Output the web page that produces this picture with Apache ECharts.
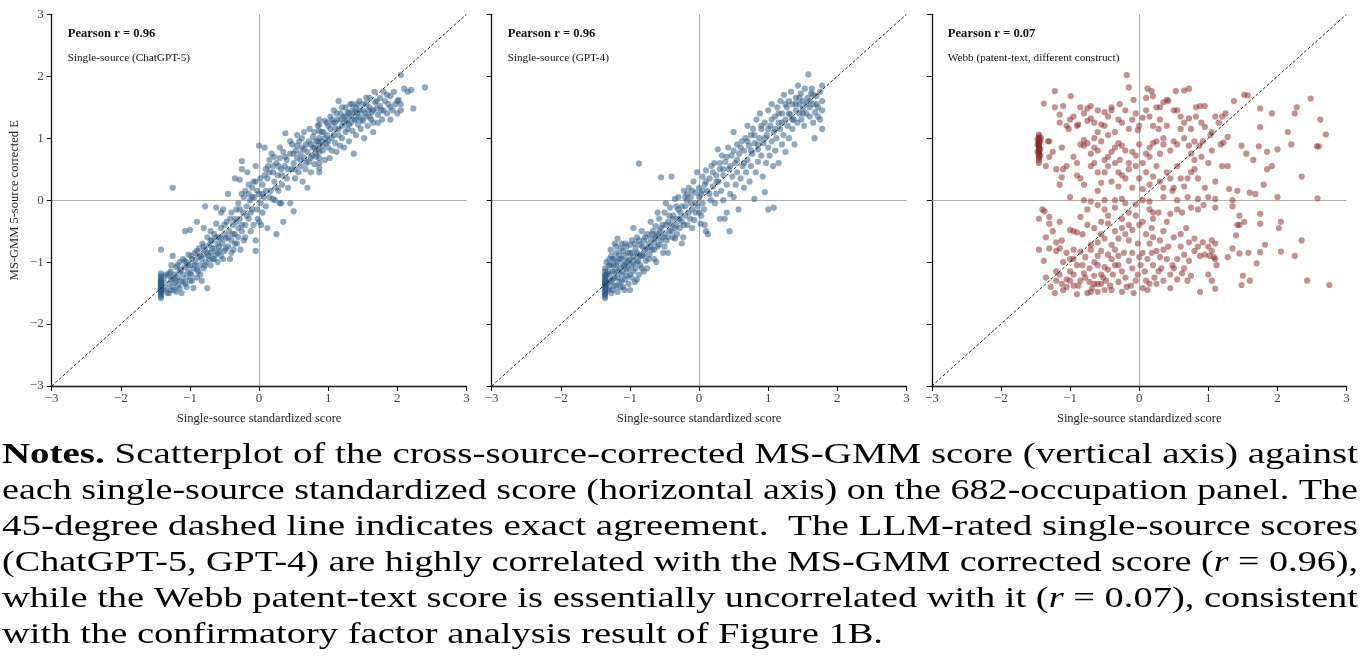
<!DOCTYPE html>
<html><head><meta charset="utf-8">
<script src="https://cdn.jsdelivr.net/npm/echarts@6/dist/echarts.min.js"></script>
<style>html,body{margin:0;padding:0;background:#fff}#c{width:1361px;height:669px}</style>
</head><body><div id="c"></div>
<script>
// ---------- DATA ----------
const axisTicks = [-3,-2,-1,0,1,2,3];
const panelTitles = ["Single-source (ChatGPT-5)","Single-source (GPT-4)","Webb (patent-text, different construct)"];
const pearsonLabels = ["Pearson r = 0.96","Pearson r = 0.96","Pearson r = 0.07"];
const refLine = [[-3,-3],[3,3]];

const chatgpt5 = [
[-1.42,-1.18],[-1.42,-1.22],[-1.42,-1.25],[-1.42,-1.28],[-1.42,-1.3],[-1.42,-1.33],[-1.42,-1.35],[-1.42,-1.37],[-1.42,-1.4],[-1.42,-1.42],[-1.42,-1.44],[-1.42,-1.46],[-1.42,-1.48],[-1.42,-1.5],[-1.42,-1.52],[-1.42,-1.55],[-1.42,-1.58],[-1.42,-1.38],[-1.42,-1.31],[-1.42,-1.45],[-1.42,-0.8],
[-1.38,-1.3],[-1.35,-1.42],[-1.33,-1.22],[-1.3,-1.35],[-1.3,-1.5],[-1.28,-1.15],[-1.27,-1.28],[-1.25,-1.4],[-1.25,-0.9],[-1.22,-1.2],[-1.22,-1.33],[-1.2,-1.48],[-1.2,-1.08],[-1.18,-1.25],[-1.17,-1.38],[-1.15,-1.0],[-1.15,-1.15],[-1.13,-1.3],[-1.12,-1.5],[-1.1,-1.2],[-1.1,-0.95],[-1.08,-1.08],[-1.07,-1.35],[-1.05,-1.25],[-1.05,-1.0],[-1.03,-1.15],[-1.02,-0.88],[-1.0,-1.3],[-1.0,-1.05],[-0.98,-1.2],[-0.97,-0.95],[-0.95,-1.1],[-0.95,-1.42],[-0.93,-0.85],[-0.92,-1.0],[-0.9,-1.25],[-0.9,-1.12],[-0.88,-0.92],[-0.87,-0.78],[-0.85,-1.05],[-0.85,-1.2],[-0.83,-0.95],[-0.82,-0.7],[-0.8,-0.88],[-0.8,-1.1],[-0.78,-0.8],[-0.77,-1.0],[-0.75,-0.6],[-0.75,-1.42],[-0.73,-0.9],[-0.72,-0.72],[-0.7,-0.5],[-0.7,-0.85],[-0.7,-1.05],[-0.68,-0.65],[-0.67,-0.95],[-0.65,-0.78],[-0.65,-0.55],[-0.63,-0.88],[-0.62,-0.12],[-0.6,-0.7],[-0.6,-1.0],[-0.58,-0.6],[-0.57,-0.82],[-0.55,-0.45],[-0.55,-0.9],[-0.53,-0.7],[-0.52,-0.15],[-0.5,-0.55],[-0.5,-0.82],[-0.48,-0.62],[-0.47,-0.35],[-0.45,-0.75],[-0.43,-0.5],[-0.42,-0.95],[-0.4,-0.65],[-0.4,-0.2],[-0.38,-0.4],[-0.37,-0.8],[-0.35,-0.55],[-0.35,0.35],[-0.33,-0.15],[-0.32,-0.7],[-0.3,-0.45],[-0.3,-0.05],[-0.28,-0.3],[-0.27,-0.8],[-0.25,-0.5],[-0.25,0.1],[-0.23,-0.2],[-0.22,-0.65],[-0.2,0.15],[-0.2,-0.4],[-0.18,-0.1],[-0.17,0.45],[-0.15,-0.3],[-0.15,0.25],[-0.13,0.0],[-0.12,-0.5],[-0.1,0.2],[-0.1,-0.15],[-0.08,0.3],[-0.07,0.05],[-0.05,-0.65],[-0.05,-0.82],[-0.03,0.15],[-0.02,-0.3],[0.0,-0.35],[0.0,0.88],[0.02,-0.05],[0.03,-0.4],[0.05,0.25],[0.07,0.05],[0.08,0.85],[0.1,-0.1],[0.12,0.35],[0.12,-0.45],[0.15,0.45],[0.17,0.15],[0.18,0.75],[0.2,0.55],[0.22,0.3],[0.23,0.0],[0.25,0.6],[0.25,-0.55],[0.27,0.4],[0.28,0.15],[0.3,0.68],[0.3,-0.05],[0.32,0.5],[0.33,0.25],[0.35,0.78],[0.35,-0.35],[0.37,0.55],[0.38,1.08],[0.4,0.35],[0.4,0.65],[0.42,0.2],[0.45,0.75],[0.45,-0.05],[0.47,0.5],[0.48,0.9],[0.5,0.6],[0.5,-0.18],[0.52,0.35],[0.53,0.8],[0.55,0.68],[0.55,1.05],[0.57,0.45],[0.58,0.95],[0.6,0.75],[0.6,0.55],[0.62,0.85],[0.63,0.3],[0.65,0.68],[0.65,1.1],[0.67,0.5],[0.68,0.9],[0.7,0.78],[0.7,0.2],[0.72,0.62],[0.73,1.15],[0.75,0.9],[0.75,0.45],[0.77,0.72],[0.78,1.02],[0.8,0.85],[0.8,0.58],[0.82,0.95],[0.83,0.7],[0.85,1.2],[0.85,0.82],
[0.87,0.45],[0.87,0.52],[0.87,0.6],[0.87,0.68],[0.87,0.78],[0.87,0.9],[0.87,1.0],[0.87,1.12],[0.87,1.22],[0.87,1.3],
[0.9,0.95],[0.92,0.8],[0.93,1.1],[0.95,0.65],[0.95,1.28],[0.97,0.92],[0.98,1.05],[1.0,0.85],[1.0,1.2],[1.02,0.68],[1.03,1.35],[1.05,1.0],[1.05,0.8],[1.07,1.25],[1.08,1.45],[1.1,0.92],[1.1,1.15],[1.12,0.78],[1.13,1.3],[1.15,1.05],[1.15,1.6],[1.17,0.88],[1.18,1.4],[1.2,1.2],[1.2,1.0],[1.22,1.35],[1.23,0.85],[1.25,1.5],[1.25,1.1],[1.27,1.28],[1.28,1.42],[1.3,0.95],[1.3,1.22],[1.32,1.55],[1.33,1.35],[1.35,1.12],[1.35,1.45],[1.37,0.75],[1.38,1.3],[1.4,1.5],[1.4,1.05],[1.42,1.4],[1.43,1.22],[1.45,1.6],[1.45,1.35],[1.47,1.15],[1.5,1.45],[1.5,1.28],[1.52,1.0],[1.55,1.55],[1.55,1.35],[1.57,1.2],[1.6,1.5],[1.6,1.65],[1.62,1.3],[1.63,1.42],[1.65,1.1],[1.65,1.25],[1.67,1.75],[1.68,1.58],[1.7,1.48],[1.72,1.38],[1.75,1.65],[1.75,1.52],[1.78,1.3],[1.8,1.45],[1.8,1.75],[1.82,1.6],[1.85,1.4],[1.87,1.55],[1.9,1.68],[1.9,1.3],[1.93,1.45],[1.95,1.75],[1.97,1.55],[2.0,1.4],[2.02,1.62],[2.05,2.02],[2.05,1.55],[2.1,1.8],[2.15,1.75],[2.2,1.78],[2.23,1.48],[2.4,1.82],
[-1.25,0.2],[-1.07,-0.5],[-1.0,-0.48],[-0.9,-0.35],[-0.8,-0.45],[-0.78,-0.1],[-0.62,-0.38],[-0.55,-0.2],[-0.45,0.1],[-0.35,-0.3],[-0.28,0.33],[-0.25,0.63],[-0.25,0.5],[-0.05,0.55],[0.05,0.1],[0.1,0.5],[0.2,0.02],[0.15,0.65],[0.32,-0.05],
[-1.38,-1.45],[-1.35,-1.2],[-1.33,-1.5],[-1.3,-1.18],[-1.28,-1.45],[-1.27,-1.05],[-1.25,-1.25],[-1.23,-1.45],[-1.2,-1.3],[-1.18,-1.05],[-1.15,-1.42],[-1.13,-1.12],[-1.1,-1.32],[-1.08,-0.98],[-1.05,-1.4],[-1.03,-1.05],[-1.0,-1.18],[-0.98,-0.9],[-0.97,-1.3],[-0.93,-1.05],[-0.9,-0.82],[-0.88,-1.15],[-0.85,-0.9],[-0.83,-1.3],[-0.8,-0.75],[-0.78,-1.05],[-0.75,-0.85],[-0.72,-0.95],[-0.7,-0.65],[-0.68,-0.78],[-0.65,-0.95],[-0.62,-0.6],[-0.6,-0.85],[-0.58,-0.75],[-0.55,-0.62],[-0.52,-0.95],[-0.5,-0.4],[-0.48,-0.78],[-0.45,-0.6],[-0.42,-0.3],[-0.4,-0.85],[-0.38,-0.55],[-0.35,-0.7],[-0.33,-0.35],[-0.3,-0.6],[-0.28,-0.15],[-0.25,-0.4],[-0.22,0.05],[-0.2,-0.6],[-0.18,-0.25],[-0.15,0.1],[-0.12,-0.2],[-0.1,0.05],[-0.08,-0.4],[-0.05,0.3],[-0.03,-0.15],[0.0,0.1],[0.02,0.35],[0.05,-0.2],[0.08,0.4],[0.1,0.15],[0.13,0.55],[0.15,0.05],[0.2,0.45],[0.22,0.7],[0.25,0.2],[0.28,0.55],[0.3,0.85],[0.33,0.4],[0.38,0.7],[0.42,0.5],[0.45,0.95],[0.5,0.75],[0.52,0.5],[0.55,0.88],[0.6,0.65],[0.62,1.0],[0.65,0.82],[0.68,0.6],[0.72,0.95],[0.75,0.68],[0.78,0.85],[0.8,1.1],[0.82,0.75],[0.85,0.95],[0.9,1.1],[0.92,0.88],[0.95,1.0],[0.98,1.25],[1.0,0.95],[1.03,1.15],[1.05,1.3],[1.08,1.05],[1.1,1.25],[1.12,1.4],[1.15,1.15],[1.18,1.3],[1.2,1.5],[1.23,1.25],[1.25,1.35],[1.28,1.15],[1.3,1.4],[1.33,1.25],[1.35,1.55],[1.38,1.42],[1.4,1.3],[1.42,1.55],[1.45,1.45],[1.48,1.3],[1.5,1.55],[1.53,1.4],[1.55,1.65],[1.58,1.45],[1.6,1.35],[1.65,1.45],[1.7,1.6],[1.72,1.25],[1.77,1.45],[1.85,1.7],[1.9,1.5],[2.0,1.6],[2.05,1.45]
];

const gpt4 = [
[-1.36,-1.1],[-1.36,-1.15],[-1.36,-1.2],[-1.36,-1.24],[-1.36,-1.28],[-1.36,-1.31],[-1.36,-1.34],[-1.36,-1.37],[-1.36,-1.4],[-1.36,-1.43],[-1.36,-1.46],[-1.36,-1.49],[-1.36,-1.52],[-1.36,-1.55],[-1.36,-1.58],[-1.36,-1.3],[-1.36,-1.42],[-1.36,-1.22],[-1.36,-1.35],[-1.36,-1.5],
[-1.33,-1.2],[-1.32,-1.45],[-1.3,-1.05],[-1.3,-1.3],[-1.28,-0.8],[-1.27,-1.5],[-1.25,-1.15],[-1.25,-0.95],[-1.23,-1.38],[-1.22,-1.25],[-1.2,-0.85],[-1.2,-1.05],[-1.18,-1.48],[-1.17,-1.15],[-1.15,-0.95],[-1.15,-1.32],[-1.13,-0.78],[-1.12,-1.2],[-1.1,-1.05],[-1.1,-1.4],[-1.08,-0.9],[-1.07,-1.28],[-1.05,-1.12],[-1.05,-0.75],[-1.03,-0.98],[-1.02,-1.35],[-1.0,-1.2],[-1.0,-0.85],[-0.98,-1.05],[-0.97,-0.65],[-0.95,-1.15],[-0.95,-0.92],[-0.93,-1.32],[-0.92,-0.78],[-0.9,-1.0],[-0.9,-0.6],[-0.88,-0.88],[-0.87,-1.2],[-0.85,-0.72],[-0.85,-1.05],[-0.83,-0.5],[-0.82,-0.9],[-0.8,-0.65],[-0.8,-1.15],[-0.78,-0.8],[-0.77,-0.98],[-0.75,-0.55],[-0.73,-0.7],[-0.72,-0.88],[-0.7,-0.35],[-0.7,-0.62],[-0.68,-0.8],[-0.67,-0.5],[-0.65,-0.68],[-0.65,-0.95],[-0.63,-0.42],[-0.62,-0.58],[-0.6,-0.75],[-0.58,-0.3],[-0.57,-0.5],[-0.55,-0.65],[-0.55,0.37],[-0.53,-0.4],[-0.52,-0.85],[-0.5,-0.55],[-0.5,-0.2],[-0.48,-0.05],[-0.47,-0.65],[-0.45,-0.35],[-0.43,-0.5],[-0.42,-0.12],[-0.4,0.38],[-0.4,-0.4],[-0.38,-0.6],[-0.37,-0.25],[-0.35,-0.45],[-0.33,-0.1],[-0.32,-0.55],[-0.3,-0.3],[-0.3,0.05],[-0.28,-0.45],[-0.27,-0.2],[-0.25,-0.35],[-0.23,-0.6],[-0.22,0.15],[-0.2,-0.1],[-0.2,-0.25],[-0.18,0.0],[-0.17,-0.4],[-0.15,0.2],[-0.13,-0.3],[-0.12,0.05],[-0.1,-0.15],[-0.08,0.3],[-0.07,-0.32],[-0.05,0.12],[-0.05,-0.05],[-0.03,0.45],[-0.02,-0.1],[0.0,0.05],[0.0,-0.2],[0.02,-0.38],[0.03,0.1],[0.05,0.38],[0.05,-0.05],[0.07,-0.15],[0.08,0.25],[0.1,0.48],[0.1,-0.5],[0.12,0.15],[0.13,-0.55],[0.15,0.35],[0.17,0.0],[0.18,0.55],[0.2,0.22],[0.22,0.6],[0.23,-0.05],[0.25,0.4],[0.25,0.1],[0.27,0.82],[0.28,0.3],[0.3,-0.3],[0.3,0.5],[0.32,0.15],[0.33,0.72],[0.35,0.0],[0.35,0.4],[0.37,-0.3],[0.38,0.62],[0.4,0.25],[0.4,-0.2],[0.42,0.85],[0.43,0.5],[0.44,-0.5],[0.45,0.1],[0.47,0.72],[0.48,0.38],[0.5,1.1],[0.5,0.05],[0.52,0.6],[0.53,0.25],[0.55,0.9],[0.55,0.45],[0.57,-0.15],[0.58,0.75],[0.6,0.35],[0.62,0.95],[0.63,0.55],[0.65,0.2],[0.65,0.8],[0.67,1.0],[0.68,0.45],[0.7,0.65],[0.7,1.2],[0.72,0.88],[0.73,0.3],[0.75,1.05],[0.75,0.55],[0.77,0.75],[0.78,1.15],[0.8,0.92],[0.8,0.02],[0.82,0.45],[0.83,1.3],[0.85,0.82],[0.85,0.62],[0.87,1.0],[0.88,1.4],[0.9,0.72],[0.9,1.15],[0.92,0.38],[0.93,0.92],[0.95,1.25],[0.95,0.13],[0.97,0.6],[0.98,1.05],[1.0,0.85],[1.0,1.45],[1.0,-0.15],[1.02,0.72],[1.03,1.2],[1.05,0.95],[1.05,1.55],[1.07,0.55],[1.08,1.1],[1.08,-0.12],[1.1,1.35],[1.1,0.8],[1.12,1.0],[1.13,1.5],[1.15,1.25],[1.15,0.6],[1.17,1.15],[1.18,1.6],[1.2,0.9],[1.2,1.4],[1.22,1.05],[1.23,1.7],[1.25,1.3],[1.25,0.78],[1.27,1.5],[1.28,1.2],[1.3,1.6],[1.3,1.0],[1.32,1.38],[1.33,1.75],[1.35,1.15],[1.35,1.55],[1.37,1.3],[1.38,0.9],[1.4,1.45],[1.4,1.65],[1.42,1.25],[1.43,1.85],[1.45,1.55],[1.45,1.4],[1.47,1.72],[1.48,1.3],[1.5,1.6],[1.5,1.48],[1.52,1.2],[1.53,1.8],[1.55,1.4],[1.57,1.65],[1.58,2.03],[1.6,1.5],[1.6,1.35],[1.62,1.72],[1.63,1.8],[1.65,1.55],[1.65,1.25],[1.67,1.0],[1.68,1.42],[1.7,1.68],[1.72,1.5],[1.75,1.3],[1.78,1.85],[1.78,1.6],[1.78,1.45],[1.78,1.15],[1.75,1.75],
[-1.3,-0.95],[-1.22,-0.7],[-1.18,-0.62],[-1.12,-0.7],[-1.08,-1.45],[-1.0,-1.45],[-0.9,-1.28],[-0.95,-0.45],[-0.75,-1.1],[-0.62,-1.0],[-0.6,-0.2],[-0.45,-0.85],[-0.35,0.02],[-0.25,-0.7],[-0.17,0.1],[-0.1,-0.45],[0.08,-0.4],[-0.87,0.59],
[-1.34,-1.0],[-1.33,-1.35],[-1.32,-1.15],[-1.3,-1.42],[-1.3,-1.2],[-1.28,-1.05],[-1.28,-1.32],[-1.27,-0.9],[-1.25,-1.28],[-1.25,-1.45],[-1.24,-1.05],[-1.22,-0.95],[-1.22,-1.15],[-1.2,-1.38],[-1.2,-0.75],[-1.18,-1.0],[-1.18,-1.25],[-1.16,-0.88],[-1.15,-1.1],[-1.14,-1.4],[-1.12,-0.95],[-1.12,-1.3],[-1.1,-0.82],[-1.1,-1.15],[-1.08,-1.05],[-1.07,-0.7],[-1.05,-1.0],[-1.05,-1.22],[-1.03,-0.85],[-1.02,-1.1],[-1.0,-0.95],[-1.0,-0.72],[-0.98,-1.25],[-0.97,-0.85],[-0.95,-1.02],[-0.93,-0.7],[-0.92,-1.1],[-0.9,-0.85],[-0.88,-0.98],[-0.87,-0.65],[-0.85,-0.9],[-0.83,-1.1],[-0.82,-0.75],[-0.8,-0.88],[-0.78,-0.6],[-0.75,-0.78],[-0.73,-0.95],[-0.7,-0.75],[-0.68,-0.55],[-0.65,-0.8],[-0.63,-0.62],[-0.6,-0.55],[-0.58,-0.72],[-0.55,-0.45],[-0.53,-0.6],[-0.5,-0.75],[-0.48,-0.4],[-0.45,-0.6],[-0.43,-0.25],[-0.4,-0.5],[-0.38,-0.3],[-0.35,-0.62],[-0.33,-0.4],[-0.3,-0.15],[-0.28,-0.3],[-0.25,-0.1],[-0.22,-0.4],[-0.2,0.05],[-0.15,-0.2],[-0.12,-0.05],[-0.1,0.15],[-0.05,-0.2],[0.0,0.2],[0.03,-0.25],[0.05,0.15],[0.1,0.3],[0.15,0.1],[0.2,0.45],[0.25,0.3],[0.3,0.6],[0.35,0.5],[0.4,0.7],[0.45,0.55],[0.5,0.8],[0.55,0.65],[0.6,0.85],[0.65,0.6],[0.7,0.95],[0.75,0.8],[0.8,1.05],[0.85,0.9],[0.9,1.2],[0.95,1.0],[1.0,1.15],[1.05,1.3],[1.1,1.15],[1.15,1.4],[1.2,1.25],[1.25,1.55],[1.3,1.4],[1.35,1.3],[1.4,1.55],[1.45,1.65],[1.5,1.4],[1.55,1.55],[1.6,1.6],[1.65,1.7],[1.7,1.55],[1.72,1.35]
];

const webb = [
[-1.45,0.65],[-1.45,0.68],[-1.45,0.72],[-1.45,0.75],[-1.45,0.78],[-1.45,0.8],[-1.45,0.82],[-1.45,0.85],[-1.45,0.87],[-1.45,0.9],[-1.45,0.93],[-1.45,0.95],[-1.45,0.98],[-1.45,1.0],[-1.45,1.03],[-1.45,0.7],[-1.45,0.76],[-1.45,0.84],[-1.45,0.88],[-1.45,0.92],[-1.45,0.6],[-1.45,1.06],
[-1.47,0.78],[-1.43,0.82],[-1.47,0.9],[-1.43,0.72],[-1.47,0.98],[-1.43,0.95],
[-1.22,1.76],[-1.38,1.56],[-1.22,1.5],[-1.1,1.52],[-0.99,1.68],[-0.85,1.5],[-0.75,1.48],[-0.7,1.52],[-0.6,1.45],[-0.5,1.42],[-0.4,1.5],[-0.28,1.55],[-0.18,2.02],[-0.15,1.82],[-0.08,1.62],[0.12,1.8],[0.18,1.76],[0.1,1.65],[0.2,1.68],[0.3,1.5],[0.35,1.58],[0.4,1.62],[0.42,1.6],[0.53,1.76],[0.55,1.45],[0.65,1.77],[0.72,1.8],[0.82,1.5],[0.88,1.52],[0.95,1.52],[1.2,1.35],[1.37,1.6],[1.52,1.7],[1.57,1.69],[1.75,1.48],[1.92,1.4],[2.25,1.4],[2.28,1.5],[2.48,1.64],[2.62,1.3],[2.7,1.06],
[-1.42,1.0],[-1.32,0.95],[-1.15,1.25],[-1.15,1.38],[-1.05,1.2],[-1.02,1.15],[-0.95,1.35],[-0.9,1.2],[-0.88,1.22],[-0.8,0.97],[-0.75,1.28],[-0.7,1.32],[-0.65,1.25],[-0.6,1.1],[-0.55,1.22],[-0.5,1.2],[-0.45,1.35],[-0.4,1.45],[-0.35,1.1],[-0.3,1.3],[-0.25,1.25],[-0.2,1.45],[-0.15,1.15],[-0.1,1.3],[-0.05,1.4],[-0.02,1.13],[0.05,1.33],[0.1,1.45],[0.15,1.35],[0.2,1.2],[0.25,1.5],[0.28,1.15],[0.3,1.3],[0.4,1.2],[0.5,1.45],[0.6,1.35],[0.65,1.25],[0.72,1.32],[0.75,1.15],[0.82,1.35],[0.9,1.25],[0.95,1.18],[1.05,1.1],[1.1,1.35],[1.15,1.25],[1.25,1.4],[1.28,1.02],[1.75,1.18],[2.15,1.1],[2.2,0.9],[2.6,0.87],[1.03,1.05],
[-1.3,0.95],[-1.25,0.78],[-1.3,0.7],[-1.12,0.85],[-0.95,0.7],[-0.85,0.9],[-0.8,0.88],[-0.75,0.92],[-0.7,0.75],[-0.65,0.85],[-0.6,0.8],[-0.55,0.95],[-0.5,0.65],[-0.45,0.7],[-0.4,0.78],[-0.35,0.85],[-0.3,0.92],[-0.28,0.65],[-0.2,0.8],[-0.15,0.5],[-0.1,0.78],[-0.05,0.72],[0.0,0.9],[0.05,0.6],[0.15,0.85],[0.2,0.92],[0.25,0.95],[0.3,0.75],[0.35,0.9],[0.45,0.8],[0.55,0.9],[0.65,1.0],[0.72,0.88],[0.75,0.75],[0.8,0.65],[0.87,0.88],[0.92,0.95],[1.05,0.8],[1.18,0.9],[1.22,0.93],[1.28,0.55],[1.48,0.88],[1.55,0.75],[1.65,0.65],[1.73,0.87],[1.85,0.78],[1.92,0.55],[2.0,0.82],[2.35,0.38],[2.57,0.87],
[-1.35,0.55],[-1.2,0.5],[-1.1,0.5],[-1.12,0.37],[-1.15,0.25],[-1.05,0.55],[-0.9,0.4],[-0.85,0.35],[-0.8,0.25],[-0.7,0.55],[-0.65,0.6],[-0.6,0.45],[-0.55,0.28],[-0.5,0.45],[-0.45,0.55],[-0.4,0.3],[-0.35,0.6],[-0.3,0.22],[-0.25,0.4],[-0.2,0.35],[-0.15,0.6],[-0.1,0.2],[-0.05,0.55],[0.0,0.35],[0.05,0.18],[0.1,0.45],[0.15,0.25],[0.2,0.38],[0.25,0.55],[0.3,0.3],[0.35,0.2],[0.4,0.45],[0.5,0.2],[0.55,0.55],[0.6,0.35],[0.65,0.22],[0.7,0.35],[0.75,0.45],[0.8,0.5],[0.85,0.35],[0.95,0.2],[1.0,0.6],[1.1,0.3],[1.2,0.55],[1.3,0.18],[1.42,0.15],[1.6,0.12],[1.8,0.25],[1.85,0.5],
[-1.0,0.05],[-0.8,0.0],[-0.7,-0.02],[-0.6,-0.08],[-0.5,0.0],[-0.35,0.0],[-0.25,0.02],[-0.2,-0.05],[-0.05,-0.07],[0.05,0.0],[0.15,-0.02],[0.35,0.05],[0.48,0.15],[0.55,0.0],[0.7,0.05],[0.85,0.02],[1.0,0.05],[1.1,0.02],[1.35,0.0],[1.68,0.1],[2.0,0.05],[2.58,0.03],
[-1.4,-0.15],[-1.37,-0.18],[-1.45,-0.3],[-1.3,-0.27],[-1.15,-0.35],[-0.85,-0.27],[-0.75,-0.15],[-0.55,-0.35],[-0.45,-0.25],[-0.35,-0.12],[-0.25,-0.3],[-0.15,-0.2],[-0.05,-0.25],[0.05,-0.35],[0.15,-0.15],[0.2,-0.3],[0.28,-0.2],[0.4,-0.35],[0.45,-0.22],[0.55,-0.15],[0.62,-0.2],[0.75,-0.12],[0.85,-0.15],[0.93,-0.08],[1.1,-0.12],[1.35,-0.1],[1.45,-0.25],[1.75,-0.22],[2.05,-0.35],[2.02,-0.45],[1.52,-0.35],[1.42,-0.4],
[-1.45,-0.8],[-1.35,-0.6],[-1.3,-0.38],[-1.25,-0.5],[-1.2,-0.68],[-1.12,-0.65],[-1.0,-0.48],[-0.95,-0.5],[-0.9,-0.52],[-0.82,-0.55],[-0.75,-0.4],[-0.7,-0.72],[-0.65,-0.45],[-0.6,-0.68],[-0.55,-0.55],[-0.5,-0.62],[-0.45,-0.38],[-0.4,-0.72],[-0.35,-0.5],[-0.3,-0.62],[-0.25,-0.45],[-0.2,-0.55],[-0.15,-0.65],[-0.1,-0.48],[-0.02,-0.7],[0.0,-0.4],[0.1,-0.55],[0.15,-0.7],[0.18,-0.45],[0.2,-0.6],[0.3,-0.65],[0.35,-0.5],[0.42,-0.75],[0.5,-0.6],[0.6,-0.55],[0.68,-0.45],[0.72,-0.68],[0.8,-0.62],[0.92,-0.68],[1.0,-0.75],[1.05,-0.65],[1.1,-0.7],[1.4,-0.57],[1.45,-0.4],[1.75,-0.38],[2.35,-0.65],
[-1.38,-0.98],[-1.3,-0.78],[-1.2,-0.82],[-1.15,-0.78],[-1.05,-0.85],[-1.0,-0.95],[-0.95,-0.8],[-0.9,-1.05],[-0.85,-0.83],[-0.78,-0.92],[-0.7,-0.8],[-0.65,-1.0],[-0.6,-0.9],[-0.55,-0.82],[-0.5,-1.08],[-0.45,-0.88],[-0.4,-0.95],[-0.35,-0.8],[-0.3,-1.05],[-0.22,-0.85],[-0.15,-0.98],[-0.1,-1.1],[0.0,-0.92],[0.05,-0.85],[0.12,-0.95],[0.2,-1.05],[0.25,-0.82],[0.3,-0.92],[0.35,-0.8],[0.48,-1.05],[0.55,-0.95],[0.65,-0.88],[0.72,-0.98],[0.8,-0.82],[0.88,-0.9],[0.95,-0.88],[1.02,-0.9],[1.08,-0.92],[1.12,-1.05],[1.28,-0.92],[1.35,-0.78],[1.45,-0.86],[1.58,-0.85],[1.75,-0.84],[1.82,-0.72],[2.05,-0.83],[2.25,-0.9],[1.7,-1.02],
[-1.35,-1.25],[-1.28,-1.4],[-1.22,-1.5],[-1.15,-1.2],[-1.12,-1.35],[-1.1,-1.45],[-1.05,-1.28],[-1.0,-1.15],[-0.95,-1.38],[-0.9,-1.52],[-0.85,-1.3],[-0.8,-1.18],[-0.75,-1.5],[-0.72,-1.32],[-0.68,-1.42],[-0.65,-1.22],[-0.6,-1.35],[-0.55,-1.2],[-0.5,-1.45],[-0.48,-1.3],[-0.42,-1.38],[-0.38,-1.2],[-0.3,-1.32],[-0.25,-1.48],[-0.2,-1.25],[-0.12,-1.38],[-0.08,-1.5],[-0.02,-1.2],[0.05,-1.42],[0.1,-1.3],[0.15,-1.35],[0.22,-1.25],[0.28,-1.15],[0.35,-1.3],[0.45,-1.42],[0.55,-1.28],[0.62,-1.18],[0.7,-1.3],[0.75,-1.22],[0.88,-1.48],[1.0,-1.2],[1.05,-1.3],[1.1,-1.43],[1.5,-1.22],[1.48,-1.37],[1.6,-1.3],[2.43,-1.3],[2.75,-1.37],[-0.6,-1.48],[-1.2,-1.3],[-0.95,-1.2],[0.5,-1.1],
[-1.2,-1.15],[-1.1,-1.0],[-1.05,-1.4],[-1.0,-1.3],[-0.95,-0.95],[-0.88,-1.38],[-0.82,-1.05],[-0.78,-1.25],[-0.72,-1.1],[-0.7,-1.48],[-0.65,-1.35],[-0.6,-1.05],[-0.55,-1.35],[-0.52,-1.25],[-0.45,-1.12],[-0.4,-1.45],[-0.35,-1.05],[-0.3,-0.9],[-0.25,-1.15],[-0.18,-1.4],[-0.1,-0.85],[-0.05,-1.3],[0.02,-1.05],[0.08,-1.15],[0.12,-1.45],[0.18,-0.85],[0.25,-1.35],[0.32,-1.1],[0.4,-0.95],[0.45,-1.2],[0.6,-0.75],[0.65,-1.1],[0.85,-0.75],[1.05,-0.82],[1.1,-0.95],
[-1.0,1.3],[-0.8,1.4],[-0.65,1.0],[-0.45,1.05],[-0.25,0.88],[0.0,1.2],[0.15,0.7],[0.35,1.0],[0.5,0.95],[0.6,1.15],[0.8,0.95],[-0.9,0.6],[-0.6,0.15],[-0.3,0.45],[0.1,0.75],[0.45,0.35],[0.9,0.7],[-0.5,-0.15],[0.2,-0.2],[-0.15,-0.4]
];

const noteLines = [
  [{t:"Notes.",b:true},{t:" Scatterplot of the cross-source-corrected MS-GMM score (vertical axis) against"}],
  [{t:"each single-source standardized score (horizontal axis) on the 682-occupation panel. The"}],
  [{t:"45-degree dashed line indicates exact agreement.  The LLM-rated single-source scores"}],
  [{t:"(ChatGPT-5, GPT-4) are highly correlated with the MS-GMM corrected score ("},{t:"r",i:true},{t:" = 0.96),"}],
  [{t:"while the Webb patent-text score is essentially uncorrelated with it ("},{t:"r",i:true},{t:" = 0.07), consistent"}],
  [{t:"with the confirmatory factor analysis result of Figure 1B."}]
];
const noteJustify = [true,true,true,true,true,false];

// ---------- LAYOUT ----------
const SERIF = "'Liberation Serif','Times New Roman',serif";
const gridLefts = [51.7, 491.7, 931.8];
const gridW = 414.8, gridTop = 14.3, gridH = 371.7;
const colors = ['#2b5a87','#2b5a87','#8e2b2b'];
const datasets = [chatgpt5, gpt4, webb];

const chart = echarts.init(document.getElementById('c'), null, {renderer:'canvas'});
const fmt = v => (v<0?'\u2212':'') + Math.abs(v);

const grids=[], xAxes=[], yAxes=[], series=[], graphics=[];
for (let i=0;i<3;i++){
  grids.push({left:gridLefts[i], top:gridTop, width:gridW, height:gridH});
  const axisCommon = {
    type:'value', min:axisTicks[0], max:axisTicks[axisTicks.length-1], interval:1, gridIndex:i,
    splitLine:{show:false},
    axisLine:{show:true,onZero:false,lineStyle:{color:'#111',width:1.3}},
    axisTick:{show:true,inside:false,length:5,lineStyle:{color:'#111',width:1}},
    axisLabel:{fontFamily:SERIF,fontSize:13,color:'#444',formatter:fmt,margin:6}
  };
  xAxes.push(Object.assign({}, axisCommon, {
    name:'Single-source standardized score', nameLocation:'middle', nameGap:26,
    nameTextStyle:{fontFamily:SERIF,fontSize:12.5,color:'#222'}
  }));
  const ya = Object.assign({}, axisCommon);
  if (i===0){
    ya.name='MS-GMM 5-source corrected E'; ya.nameLocation='middle'; ya.nameGap=30;
    ya.nameTextStyle={fontFamily:SERIF,fontSize:12.5,color:'#222'};
    ya.axisLabel=Object.assign({}, axisCommon.axisLabel, {margin:8});
  } else {
    ya.axisLabel={show:false};
  }
  yAxes.push(ya);
  series.push({
    type:'scatter', xAxisIndex:i, yAxisIndex:i, data:datasets[i], symbolSize:6.2, z:2,
    itemStyle:{color:colors[i], opacity:0.52}, silent:true,
    markLine:{silent:true, symbol:'none', label:{show:false}, z:1,
      lineStyle:{color:'#999',width:0.8,type:'solid'},
      data:[{xAxis:0},{yAxis:0}]}
  });
  series.push({
    type:'line', xAxisIndex:i, yAxisIndex:i, data:refLine, symbol:'none', z:3, silent:true,
    lineStyle:{color:'#111',width:0.9,type:[3,2]}
  });
  graphics.push({type:'text', left:gridLefts[i]+16, top:27,
    style:{text:pearsonLabels[i], font:"bold 12.6px "+SERIF, fill:'#111'}});
  graphics.push({type:'text', left:gridLefts[i]+16, top:53,
    style:{text:panelTitles[i], font:"11.2px "+SERIF, fill:'#111'}});
}

// Notes paragraph
const NOTE_SIZE = 29;
const ctx = document.createElement('canvas').getContext('2d');
function segFont(s){ return (s.i?'italic ':'') + (s.b?'bold ':'') + NOTE_SIZE + "px " + SERIF; }
const lineY0 = 441, lineStep = 36, noteLeft = 2, noteRight = 1358;
noteLines.forEach((segs, li) => {
  let w = 0;
  segs.forEach(s => { ctx.font = segFont(s); w += ctx.measureText(s.t).width; });
  const sx = noteJustify[li] ? (noteRight-noteLeft)/w : (883-noteLeft)/w;
  const rich = {}; let txt = '';
  segs.forEach((s,k) => { rich['s'+k] = {font:segFont(s), fill:'#000'}; txt += '{s'+k+'|'+s.t+'}'; });
  graphics.push({type:'text', x:noteLeft, y:lineY0 + li*lineStep, scaleX:sx, originX:0,
    style:{text:txt, rich:rich, font:NOTE_SIZE+"px "+SERIF, fill:'#000', textVerticalAlign:'top'}});
});

chart.setOption({
  animation:false, backgroundColor:'#fff',
  grid:grids, xAxis:xAxes, yAxis:yAxes, series:series, graphic:graphics
});
</script></body></html>
